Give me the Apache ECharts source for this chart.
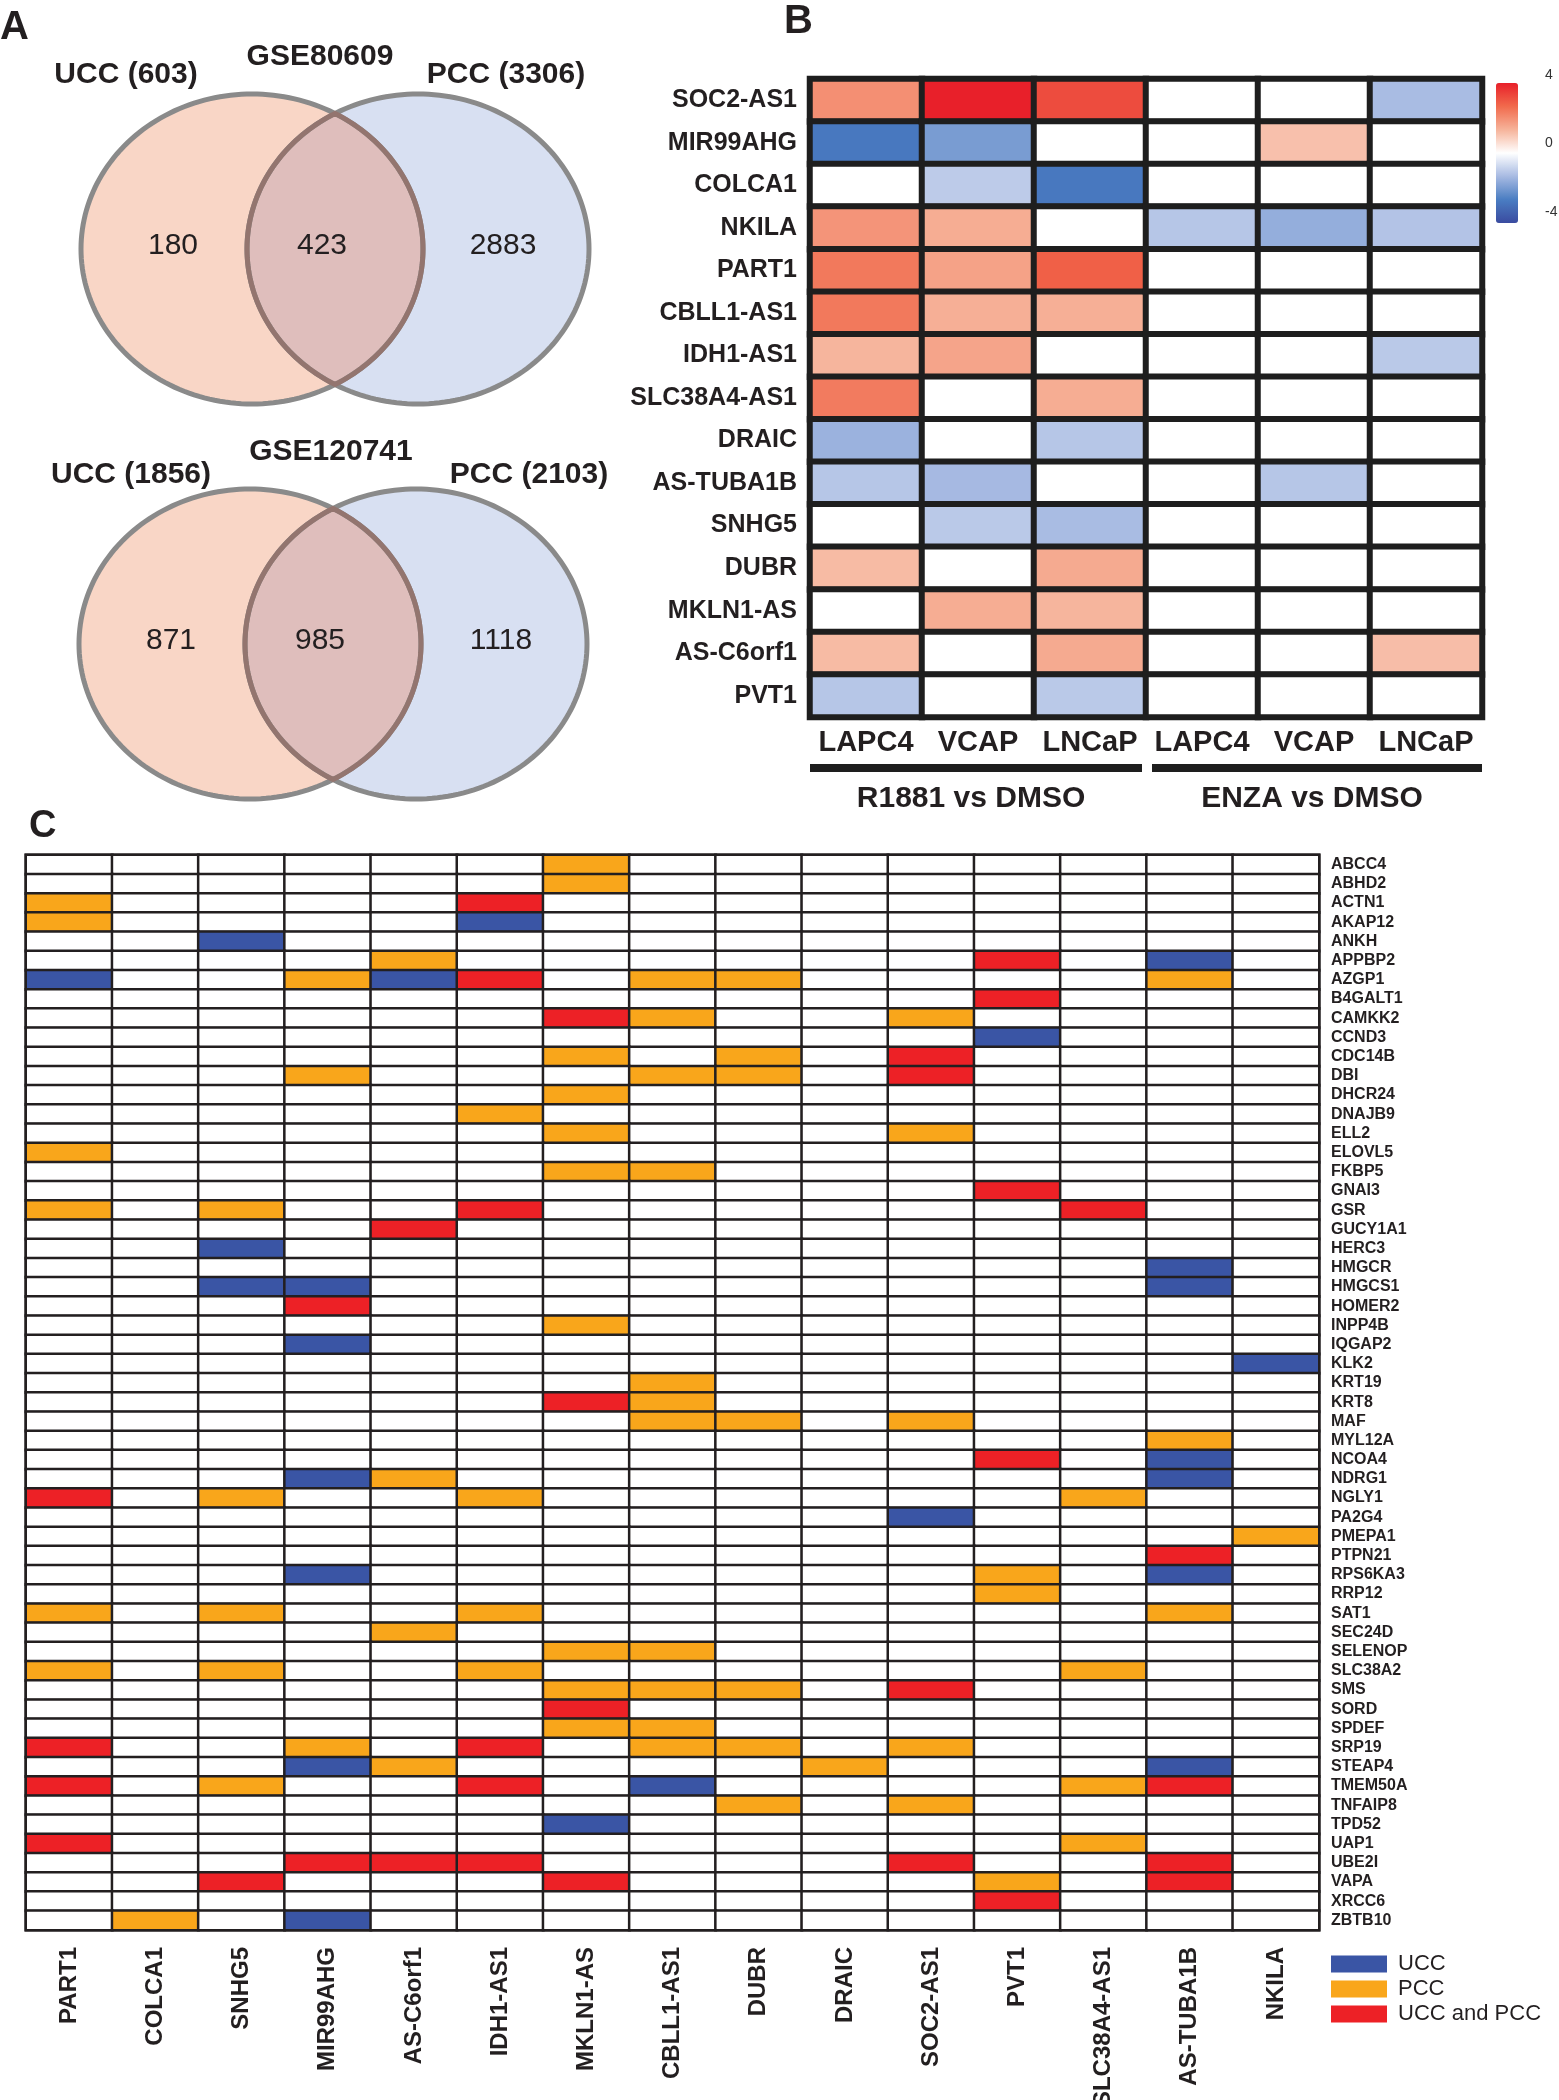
<!DOCTYPE html>
<html><head><meta charset="utf-8">
<script src="https://cdn.jsdelivr.net/npm/echarts@6/dist/echarts.min.js"></script>
<style>html,body{margin:0;padding:0;background:#fff}#chart{width:1559px;height:2100px}</style>
</head><body><div id="chart"></div>
<script>
// ---------------- Panel A: Venn counts ----------------
const vennTitles = ['GSE80609', 'GSE120741'];
const uccOnly = [180, 871];
const sharedBoth = [423, 985];
const pccOnly = [2883, 1118];

// ---------------- Panel B: heatmap ----------------
const bRows = ['SOC2-AS1','MIR99AHG','COLCA1','NKILA','PART1','CBLL1-AS1','IDH1-AS1','SLC38A4-AS1','DRAIC','AS-TUBA1B','SNHG5','DUBR','MKLN1-AS','AS-C6orf1','PVT1'];
const bCols = ['LAPC4','VCAP','LNCaP','LAPC4','VCAP','LNCaP'];
const bGroups = ['R1881 vs DMSO', 'ENZA vs DMSO'];
const r1881_LAPC4 = [2.0, -2.8, 0, 1.9, 2.4, 2.4, 1.3, 2.35, -1.5, -1.1, 0, 1.2, 0, 1.2, -1.1];
const r1881_VCAP  = [4.0, -2.0, -1.0, 1.45, 1.65, 1.4, 1.6, 0, 0, -1.35, -1.05, 0, 1.45, 0, 0];
const r1881_LNCaP = [3.2, 0, -2.8, 0, 2.85, 1.4, 0, 1.45, -1.1, 0, -1.3, 1.5, 1.3, 1.5, -1.05];
const enza_LAPC4  = [0, 0, 0, -1.1, 0, 0, 0, 0, 0, 0, 0, 0, 0, 0, 0];
const enza_VCAP   = [0, 1.1, 0, -1.6, 0, 0, 0, 0, 0, -1.1, 0, 0, 0, 0, 0];
const enza_LNCaP  = [-1.3, 0, 0, -1.15, 0, 0, -1.05, 0, 0, 0, 0, 0, 0, 1.15, 0];
const colorbarTicks = [-4, 0, 4];

// ---------------- Panel C: categorical grid ----------------
const cLnc = ['PART1','COLCA1','SNHG5','MIR99AHG','AS-C6orf1','IDH1-AS1','MKLN1-AS','CBLL1-AS1','DUBR','DRAIC','SOC2-AS1','PVT1','SLC38A4-AS1','AS-TUBA1B','NKILA'];
const cGenes = ['ABCC4','ABHD2','ACTN1','AKAP12','ANKH','APPBP2','AZGP1','B4GALT1','CAMKK2','CCND3','CDC14B','DBI','DHCR24','DNAJB9','ELL2','ELOVL5','FKBP5','GNAI3','GSR','GUCY1A1','HERC3','HMGCR','HMGCS1','HOMER2','INPP4B','IQGAP2','KLK2','KRT19','KRT8','MAF','MYL12A','NCOA4','NDRG1','NGLY1','PA2G4','PMEPA1','PTPN21','RPS6KA3','RRP12','SAT1','SEC24D','SELENOP','SLC38A2','SMS','SORD','SPDEF','SRP19','STEAP4','TMEM50A','TNFAIP8','TPD52','UAP1','UBE2I','VAPA','XRCC6','ZBTB10'];
// 0 = none, 1 = UCC, 2 = PCC, 3 = UCC and PCC  (one string per gene, one char per lncRNA)
const cMatrix = [
'000000200000000','000000200000000','200003000000000','200001000000000','001000000000000',
'000020000003010','100213022000020','000000000003000','000000320020000','000000000001000',
'000000202030000','000200022030000','000000200000000','000002000000000','000000200020000',
'200000000000000','000000220000000','000000000003000','202003000000300','000030000000000',
'001000000000000','000000000000010','001100000000010','000300000000000','000000200000000',
'000100000000000','000000000000001','000000020000000','000000320000000','000000022020000',
'000000000000020','000000000003010','000120000000010','302002000000200','000000000010000',
'000000000000002','000000000000030','000100000002010','000000000002000','202002000000020',
'000020000000000','000000220000000','202002000000200','000000222030000','000000300000000',
'000000220000000','300203022020000','000120000200010','302003010000230','000000002020000',
'000000100000000','300000000000200','000333000030030','003000300002030','000000000003000',
'020100000000000'];
const cLegend = ['UCC', 'PCC', 'UCC and PCC'];

// ---------------- build ----------------
const SANS = '"Liberation Sans", Arial, Helvetica, sans-serif';
const INK = '#231F20';

const bSeriesVals = [r1881_LAPC4, r1881_VCAP, r1881_LNCaP, enza_LAPC4, enza_VCAP, enza_LNCaP];
const bData = [];
bSeriesVals.forEach((col, ci) => col.forEach((v, ri) => bData.push([ci, ri, v])));

const cData = [];
cMatrix.forEach((row, gi) => { for (let li = 0; li < cLnc.length; li++) cData.push([li, gi, +row[li]]); });

const vennData = vennTitles.map((t, i) => [uccOnly[i], sharedBoth[i], pccOnly[i]]);
const RX = 171, RY = 155;
const vennLayout = [
  {cx1: 252, cx2: 418, cy: 249, gse: [320, 57], ucc: [126, 75], pcc: [506, 75]},
  {cx1: 250, cx2: 416, cy: 644, gse: [331, 452], ucc: [131, 475], pcc: [529, 475]}
];
function ellPts(cx, cy, t0, t1, n) {
  const p = [];
  for (let i = 0; i <= n; i++) { const t = t0 + (t1 - t0) * i / n; p.push([cx + RX * Math.cos(t), cy + RY * Math.sin(t)]); }
  return p;
}
function vennRender(params, api) {
  const L = vennLayout[params.dataIndex];
  const a = api.value(0), b = api.value(1), c = api.value(2);
  const th = Math.acos((L.cx2 - L.cx1) / 2 / RX);
  const lens = ellPts(L.cx1, L.cy, -th, th, 80).concat(ellPts(L.cx2, L.cy, Math.PI - th, Math.PI + th, 80));
  const left = ellPts(L.cx1, L.cy, 0, 2 * Math.PI, 200);
  const right = ellPts(L.cx2, L.cy, 0, 2 * Math.PI, 200);
  const txt = (s, x, y, bold) => ({type: 'text', style: {text: s, x: x, y: y, fill: INK, fontSize: 30, fontWeight: bold ? 'bold' : 'normal', fontFamily: SANS, align: 'center', verticalAlign: 'middle'}});
  return {type: 'group', children: [
    {type: 'polygon', shape: {points: left}, style: {fill: '#F9D6C6'}},
    {type: 'polygon', shape: {points: right}, style: {fill: '#D8E0F2'}},
    {type: 'polygon', shape: {points: lens}, style: {fill: '#DFBEBC'}},
    {type: 'polygon', shape: {points: left}, style: {fill: null, stroke: '#8A8A8A', lineWidth: 5}},
    {type: 'polygon', shape: {points: right}, style: {fill: null, stroke: '#8A8A8A', lineWidth: 5}},
    {type: 'polygon', shape: {points: lens}, style: {fill: null, stroke: '#93756F', lineWidth: 5}},
    txt(String(a), L.cx1 - 79, L.cy - 3, false),
    txt(String(b), L.cx1 + 70, L.cy - 3, false),
    txt(String(c), L.cx2 + 85, L.cy - 3, false),
    txt(vennTitles[params.dataIndex], L.gse[0], L.gse[1], true),
    txt('UCC (' + (a + b) + ')', L.ucc[0], L.ucc[1], true),
    txt('PCC (' + (b + c) + ')', L.pcc[0], L.pcc[1], true)
  ]};
}

const option = {
  animation: false,
  backgroundColor: '#ffffff',
  textStyle: {fontFamily: SANS},
  grid: [
    {left: 810, top: 79, width: 672, height: 638, show: true, borderColor: '#1E1E1E', borderWidth: 6, backgroundColor: 'transparent', outerBoundsMode: 'none', containLabel: false},
    {left: 26, top: 855, width: 1293, height: 1075, show: true, borderColor: INK, borderWidth: 3, backgroundColor: 'transparent', outerBoundsMode: 'none', containLabel: false},
    {left: 1495, top: 75, width: 24, height: 137, show: false, outerBoundsMode: 'none', containLabel: false}
  ],
  xAxis: [
    {type: 'category', gridIndex: 0, data: bCols, position: 'bottom', axisLine: {show: false}, axisTick: {show: false}, splitLine: {show: false},
     axisLabel: {interval: 0, margin: 11, fontSize: 29, fontWeight: 'bold', fontFamily: SANS, color: INK}},
    {type: 'category', gridIndex: 1, data: cLnc, position: 'bottom', axisLine: {show: false}, axisTick: {show: false}, splitLine: {show: false},
     axisLabel: {interval: 0, rotate: 90, margin: 17, fontSize: 24, fontWeight: 'bold', fontFamily: SANS, color: INK}},
    {type: 'value', gridIndex: 2, show: false}
  ],
  yAxis: [
    {type: 'category', gridIndex: 0, data: bRows, inverse: true, axisLine: {show: false}, axisTick: {show: false}, splitLine: {show: false},
     axisLabel: {interval: 0, margin: 13, fontSize: 25, fontWeight: 'bold', fontFamily: SANS, color: INK}},
    {type: 'category', gridIndex: 1, data: cGenes, inverse: true, position: 'right', axisLine: {show: false}, axisTick: {show: false}, splitLine: {show: false},
     axisLabel: {interval: 0, margin: 12, fontSize: 16, fontWeight: 'bold', fontFamily: SANS, color: INK}},
    {type: 'value', gridIndex: 2, min: colorbarTicks[0], max: colorbarTicks[2], interval: 4, position: 'right',
     axisLine: {show: false}, axisTick: {show: false}, splitLine: {show: false},
     axisLabel: {margin: 26, fontSize: 14, color: '#333', fontFamily: SANS}}
  ],
  visualMap: [
    {type: 'continuous', seriesIndex: 0, dimension: 2, min: -4, max: 4, calculable: false, hoverLink: false,
     orient: 'vertical', left: 1481, top: 68, itemWidth: 22, itemHeight: 140, text: null, showLabel: false,
     inRange: {color: ['#3A4BA0', '#4A7DC2', '#A7BAE2', '#FFFFFF', '#F6B39A', '#F16A4C', '#E8202A']}},
    {type: 'piecewise', seriesIndex: 1, dimension: 2, orient: 'vertical', inverse: true, align: 'left', left: 1316, top: 1938,
     itemWidth: 56, itemHeight: 17, itemGap: 3, itemSymbol: 'rect', textGap: 11, selectedMode: false, hoverLink: false,
     textStyle: {fontSize: 22, color: INK, fontFamily: SANS},
     pieces: [
       {value: 1, label: cLegend[0], color: '#3A55A5'},
       {value: 2, label: cLegend[1], color: '#F9A61B'},
       {value: 3, label: cLegend[2], color: '#ED2126'}
     ],
     outOfRange: {color: '#FFFFFF'}}
  ],
  series: [
    {type: 'heatmap', xAxisIndex: 0, yAxisIndex: 0, data: bData, silent: true,
     itemStyle: {borderColor: '#1E1E1E', borderWidth: 6}, emphasis: {disabled: true}},
    {type: 'heatmap', xAxisIndex: 1, yAxisIndex: 1, data: cData, silent: true,
     itemStyle: {borderColor: INK, borderWidth: 2.5}, emphasis: {disabled: true}},
    {type: 'custom', coordinateSystem: 'none', data: vennData, renderItem: vennRender, silent: true}
  ],
  graphic: [
    {type: 'text', left: 0, top: 8, style: {text: 'A', fontSize: 40, fontWeight: 'bold', fontFamily: SANS, fill: INK}},
    {type: 'text', left: 784, top: 2, style: {text: 'B', fontSize: 40, fontWeight: 'bold', fontFamily: SANS, fill: INK}},
    {type: 'text', left: 29, top: 808, style: {text: 'C', fontSize: 38, fontWeight: 'bold', fontFamily: SANS, fill: INK}},
    {type: 'rect', shape: {x: 810, y: 764, width: 332, height: 8}, style: {fill: '#1E1E1E'}},
    {type: 'rect', shape: {x: 1152, y: 764, width: 330, height: 8}, style: {fill: '#1E1E1E'}},
    {type: 'text', x: 971, y: 799, style: {text: bGroups[0], fontSize: 30, fontWeight: 'bold', fontFamily: SANS, fill: INK, align: 'center', verticalAlign: 'middle'}},
    {type: 'text', x: 1312, y: 799, style: {text: bGroups[1], fontSize: 30, fontWeight: 'bold', fontFamily: SANS, fill: INK, align: 'center', verticalAlign: 'middle'}}
  ]
};
const chart = echarts.init(document.getElementById('chart'), null, {renderer: 'canvas', width: 1559, height: 2100});
chart.setOption(option);
</script></body></html>
